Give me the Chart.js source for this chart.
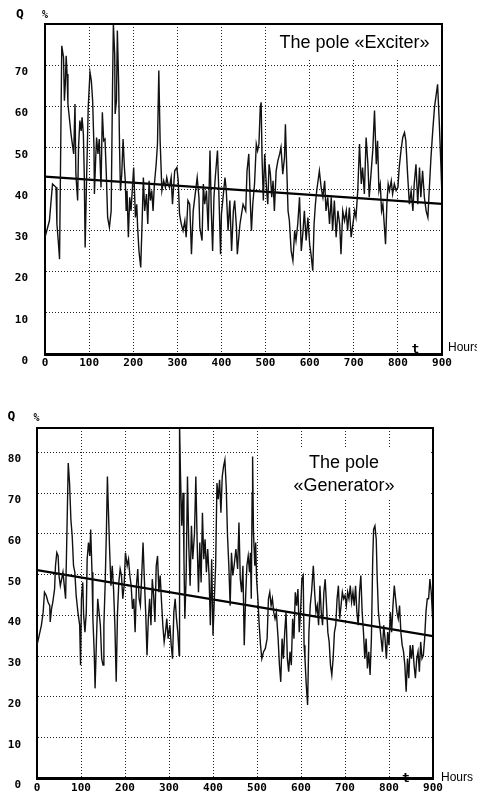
<!DOCTYPE html>
<html>
<head>
<meta charset="utf-8">
<title>Pole Q over time</title>
<script src="https://cdn.jsdelivr.net/npm/chart.js@4.4.1/dist/chart.umd.min.js"></script>
<style>
  html, body { margin: 0; padding: 0; background: #fff; }
  body { width: 477px; height: 801px; position: relative; overflow: hidden; }
  canvas { position: absolute; left: 0; }
  #exciterChart { top: 0; }
  #generatorChart { top: 400px; }
</style>
</head>
<body>
<canvas id="exciterChart" width="477" height="385"></canvas>
<canvas id="generatorChart" width="477" height="401"></canvas>
<script>
// ---- values ----
const hourTicks = [0, 100, 200, 300, 400, 500, 600, 700, 800, 900];
const exciterYTicks = [0, 10, 20, 30, 40, 50, 60, 70];
const generatorYTicks = [0, 10, 20, 30, 40, 50, 60, 70, 80];

const exciterHours = [
  0, 10, 17, 25, 27, 30, 33, 38, 42, 44, 46, 48, 50, 52, 59, 65, 68, 70, 74, 76,
  79, 82, 84, 87, 89, 91, 94, 98, 102, 105, 108, 111, 112, 115, 117, 120, 123, 127, 130, 133,
  136, 139, 142, 146, 150, 153, 155, 158, 159, 162, 164, 167, 169, 171, 174, 177, 180, 182, 184, 186,
  189, 192, 195, 201, 205, 208, 210, 213, 217, 220, 223, 226, 230, 233, 236, 239, 242, 245, 248, 252,
  255, 258, 261, 265, 269, 273, 276, 279, 282, 286, 289, 294, 299, 302, 305, 309, 313, 317, 320, 324,
  328, 330, 332, 336, 345, 349, 351, 356, 359, 362, 366, 370, 374, 377, 380, 383, 386, 391, 394, 398,
  400, 408, 411, 415, 419, 423, 427, 430, 434, 436, 442, 449, 455, 458, 462, 465, 468, 471, 475, 479,
  482, 485, 488, 490, 492, 495, 498, 502, 505, 508, 511, 514, 517, 520, 524, 528, 532, 535, 539, 543,
  545, 548, 551, 554, 558, 562, 566, 569, 573, 577, 581, 585, 588, 592, 596, 600, 603, 607, 610, 613,
  616, 619, 622, 626, 630, 634, 637, 641, 645, 649, 652, 656, 660, 664, 668, 671, 675, 679, 683, 686,
  690, 694, 698, 702, 705, 709, 713, 717, 720, 724, 728, 732, 735, 739, 743, 747, 751, 754, 757, 760,
  763, 766, 769, 772, 775, 778, 781, 785, 788, 792, 796, 800, 803, 807, 811, 815, 818, 822, 826, 830,
  834, 837, 841, 845, 849, 852, 856, 860, 864, 868, 871, 875, 879, 883, 887, 890, 894, 898, 900
];
const exciterQ = [
  28.3, 32.3, 41.2, 40.4, 31.5, 27.5, 23.0, 74.7, 71.9, 61.4, 65.4, 72.3, 67.9, 60.6, 53.3, 48.5, 60.6, 43.6, 37.2, 50.1,
  56.6, 54.1, 57.4, 53.3, 43.6, 25.8, 41.2, 59.8, 68.3, 66.3, 61.4, 50.1, 38.8, 47.7, 52.5, 48.5, 52.1, 40.4, 58.6, 51.7,
  52.1, 43.6, 33.1, 30.7, 34.7, 63.8, 80.0, 72.7, 58.2, 61.4, 78.4, 65.4, 50.1, 39.6, 43.6, 52.1, 45.2, 42.0, 34.7, 39.6,
  28.3, 38.0, 34.7, 45.2, 33.1, 36.3, 30.7, 25.0, 21.0, 31.5, 42.8, 34.7, 38.8, 31.5, 42.0, 37.2, 39.6, 34.7, 41.2, 46.0,
  50.9, 68.7, 51.7, 39.6, 42.0, 40.4, 42.8, 41.2, 40.4, 42.8, 36.3, 44.4, 45.2, 42.0, 33.9, 31.5, 29.9, 32.3, 28.3, 37.2,
  36.3, 30.7, 24.2, 34.7, 42.8, 38.0, 30.7, 27.5, 41.2, 36.3, 39.6, 29.9, 49.3, 34.7, 25.0, 38.0, 42.8, 49.3, 39.6, 24.2,
  33.9, 42.8, 39.6, 29.9, 37.2, 25.0, 34.7, 37.2, 30.7, 24.2, 31.5, 36.3, 34.7, 44.4, 48.5, 38.0, 29.9, 36.3, 41.2, 50.9,
  49.3, 50.9, 59.8, 61.0, 47.7, 37.2, 48.5, 40.4, 36.3, 46.0, 43.6, 38.0, 42.0, 34.7, 44.4, 46.9, 48.5, 50.1, 43.6, 47.7,
  55.7, 45.2, 34.7, 32.3, 25.0, 22.6, 29.9, 27.5, 31.5, 38.0, 25.0, 29.9, 34.7, 27.5, 33.1, 26.6, 24.2, 20.2, 31.5, 36.3,
  39.6, 42.0, 44.4, 40.4, 38.0, 42.0, 34.7, 38.0, 31.5, 38.0, 29.9, 37.2, 28.3, 34.7, 31.5, 24.2, 34.7, 32.3, 34.7, 29.9,
  35.5, 28.3, 31.5, 34.7, 33.1, 39.6, 50.9, 41.2, 45.2, 38.8, 52.5, 46.0, 38.0, 43.6, 49.3, 59.0, 46.0, 51.7, 39.6, 41.2,
  34.7, 36.3, 31.5, 26.6, 36.3, 41.2, 39.6, 42.0, 38.8, 41.2, 39.6, 40.4, 45.2, 49.3, 52.5, 53.7, 51.7, 43.6, 36.3, 39.6,
  34.7, 41.2, 46.0, 36.3, 45.2, 38.0, 44.4, 38.0, 34.7, 33.1, 39.6, 47.7, 54.1, 59.8, 63.0, 65.4, 55.7, 44.4, 38.0
];
const exciterTrendHours = [0, 900];
const exciterTrendQ = [43.0, 36.4];

const generatorHours = [
  0, 5, 10, 14, 17, 21, 25, 29, 30, 33, 36, 40, 42, 45, 48, 50, 53, 56, 59, 62,
  65, 68, 71, 74, 77, 80, 83, 86, 89, 93, 97, 99, 101, 104, 106, 109, 112, 114, 117, 120,
  122, 125, 127, 130, 132, 135, 138, 141, 144, 147, 150, 152, 155, 158, 160, 162, 165, 168, 171, 174,
  177, 180, 183, 186, 189, 192, 195, 198, 201, 205, 208, 211, 214, 217, 220, 223, 226, 229, 232, 235,
  238, 241, 244, 247, 250, 253, 256, 259, 262, 265, 268, 271, 274, 277, 280, 283, 286, 289, 292, 295,
  298, 302, 305, 308, 311, 314, 317, 320, 323, 324, 326, 329, 332, 334, 336, 339, 342, 345, 348, 351,
  354, 358, 361, 364, 367, 370, 373, 376, 379, 382, 385, 388, 391, 394, 397, 400, 403, 406, 409, 412,
  415, 418, 421, 424, 427, 430, 433, 436, 439, 442, 445, 448, 452, 456, 459, 462, 465, 468, 471, 474,
  477, 480, 483, 485, 487, 489, 490, 492, 495, 497, 499, 502, 505, 508, 511, 515, 519, 523, 526, 529,
  532, 535, 538, 541, 544, 548, 551, 554, 557, 560, 563, 566, 569, 572, 575, 578, 581, 584, 587, 590,
  593, 596, 599, 602, 605, 607, 609, 612, 615, 618, 621, 624, 628, 631, 634, 637, 640, 643, 646, 649,
  652, 655, 658, 661, 664, 667, 670, 673, 676, 679, 682, 685, 688, 691, 694, 697, 700, 703, 706, 709,
  712, 715, 718, 721, 724, 727, 730, 733, 736, 739, 742, 745, 748, 751, 754, 757, 760, 763, 765, 768,
  771, 773, 776, 779, 782, 785, 788, 791, 794, 797, 800, 803, 806, 809, 812, 815, 818, 821, 824, 827,
  830, 833, 836, 839, 842, 845, 848, 851, 854, 857, 860, 863, 866, 869, 872, 875, 878, 881, 884, 887,
  890, 893, 896, 900
];
const generatorQ = [
  32.7, 35.1, 37.6, 40.8, 45.7, 44.9, 43.3, 42.4, 38.4, 41.6, 43.3, 46.5, 52.2, 55.4, 54.6, 49.8, 47.3, 48.9, 50.6, 47.3,
  44.1, 60.3, 77.4, 72.5, 63.6, 59.5, 52.2, 50.6, 44.9, 40.8, 37.6, 27.8, 44.1, 48.1, 40.0, 35.9, 40.8, 53.8, 57.9, 54.6,
  61.1, 50.6, 39.2, 31.1, 22.1, 33.5, 44.1, 40.8, 37.6, 29.4, 27.8, 37.6, 48.1, 62.0, 74.1, 66.8, 56.3, 47.3, 52.2, 46.5,
  37.6, 23.7, 40.8, 48.1, 51.4, 49.8, 44.1, 47.3, 55.4, 52.2, 53.8, 49.8, 47.3, 41.6, 44.1, 35.9, 47.3, 51.4, 44.1, 42.4,
  49.8, 57.9, 48.9, 40.8, 30.2, 39.2, 44.1, 37.6, 48.9, 44.9, 38.4, 52.2, 54.6, 45.7, 49.8, 43.3, 37.6, 33.5, 35.9, 39.2,
  34.3, 37.6, 32.7, 29.4, 40.8, 44.1, 39.2, 35.9, 30.2, 87.0, 75.0, 62.0, 70.1, 53.8, 39.2, 49.8, 74.1, 57.1, 47.3, 62.0,
  53.8, 60.3, 74.1, 57.9, 45.7, 57.9, 48.1, 65.2, 53.8, 58.7, 50.6, 56.3, 49.8, 37.6, 53.8, 35.1, 44.1, 52.2, 72.5, 68.5,
  73.3, 65.2, 74.1, 76.6, 78.2, 71.7, 59.5, 52.2, 42.4, 55.4, 49.8, 52.2, 56.3, 51.4, 62.8, 49.0, 45.7, 52.2, 32.7, 44.1,
  52.2, 54.6, 50.6, 55.4, 44.1, 70.1, 79.0, 60.3, 52.2, 57.9, 49.0, 44.1, 37.6, 32.7, 29.4, 31.1, 31.9, 34.3, 44.1, 45.7,
  42.4, 44.1, 40.8, 39.2, 40.8, 34.3, 27.8, 23.7, 34.3, 29.4, 35.9, 40.8, 29.4, 26.2, 31.1, 27.8, 39.2, 34.3, 45.7, 42.4,
  46.5, 35.9, 40.8, 49.0, 49.8, 32.7, 29.4, 22.9, 18.0, 35.9, 42.4, 45.7, 52.2, 45.7, 40.8, 42.4, 37.6, 47.3, 40.8, 37.6,
  45.7, 48.9, 42.4, 35.9, 33.5, 27.8, 25.4, 29.4, 35.9, 37.6, 44.1, 47.3, 39.2, 42.4, 45.7, 44.1, 44.9, 42.4, 45.7, 44.1,
  47.3, 43.3, 45.7, 42.4, 47.3, 40.8, 37.6, 45.7, 49.8, 40.8, 35.9, 29.4, 34.3, 27.0, 31.1, 25.4, 34.3, 53.8, 61.1, 62.0,
  58.7, 49.8, 40.8, 37.6, 34.3, 31.1, 37.6, 34.3, 29.4, 35.9, 32.7, 40.8, 35.9, 42.4, 47.3, 44.1, 40.8, 39.2, 42.4, 35.9,
  32.7, 31.1, 27.8, 21.3, 29.4, 24.6, 32.7, 29.4, 32.7, 27.8, 24.6, 29.4, 31.1, 26.2, 33.5, 29.4, 30.2, 34.3, 40.8, 44.1,
  44.1, 48.9, 45.7, 37.6
];
const generatorTrendHours = [0, 900];
const generatorTrendQ = [51.1, 34.9];

const MONO = '"DejaVu Sans Mono", monospace';
const SANS = '"Liberation Sans", Arial, sans-serif';

function toPoints(xs, ys) {
  return xs.map((x, i) => ({ x: x, y: ys[i] }));
}

// top/right frame, title box and the loose labels (Q, %, t, Hours)
function decorPlugin(d) {
  return {
    id: 'decor',
    afterDraw(chart) {
      const ctx = chart.ctx;
      const a = chart.chartArea;
      ctx.save();

      ctx.fillStyle = '#fff';
      ctx.fillRect(d.box.x, d.box.y, d.box.w, d.box.h);
      ctx.fillStyle = '#000';
      ctx.font = '18px ' + SANS;
      ctx.textAlign = 'center';
      ctx.textBaseline = 'alphabetic';
      d.title.forEach((line, i) => ctx.fillText(line, d.titleX, d.titleY + i * 23));

      ctx.strokeStyle = '#000';
      ctx.lineWidth = 2;
      ctx.beginPath();
      ctx.moveTo(a.left - 1, a.top);
      ctx.lineTo(a.right, a.top);
      ctx.lineTo(a.right, a.bottom);
      ctx.stroke();

      ctx.textBaseline = 'middle';
      ctx.font = 'bold 13px ' + MONO;
      ctx.fillText('Q', d.q.x, d.q.y);
      ctx.font = 'bold 10px ' + MONO;
      ctx.fillText('%', d.pct.x, d.pct.y);

      ctx.textBaseline = 'alphabetic';
      ctx.font = 'bold 13px ' + MONO;
      ctx.fillText('t', d.t.x, d.t.y);
      ctx.textAlign = 'left';
      ctx.font = '12px ' + SANS;
      ctx.fillText('Hours', d.hours.x, d.hours.y);
      ctx.restore();
    }
  };
}

function buildChart(id, o) {
  const tickFont = { family: MONO, size: 11, weight: 'bold' };
  return new Chart(document.getElementById(id), {
    type: 'line',
    data: {
      datasets: [
        {
          data: toPoints(o.hours, o.q),
          borderColor: '#111',
          borderWidth: 1.4,
          pointRadius: 0,
          tension: 0
        },
        {
          data: toPoints(o.trendHours, o.trendQ),
          borderColor: '#000',
          borderWidth: 2.2,
          pointRadius: 0
        }
      ]
    },
    options: {
      responsive: false,
      animation: false,
      events: [],
      layout: { padding: o.padding },
      plugins: { legend: { display: false }, tooltip: { enabled: false } },
      scales: {
        x: {
          type: 'linear',
          min: 0,
          max: 900,
          afterBuildTicks: s => { s.ticks = hourTicks.map(v => ({ value: v })); },
          afterFit: s => { s.height = o.xHeight; },
          grid: { color: '#222', lineWidth: 1, drawTicks: false },
          border: { display: true, color: '#000', width: 3, dash: [1, 2] },
          ticks: { padding: o.xPad, color: '#000', font: tickFont, maxRotation: 0, autoSkip: false }
        },
        y: {
          min: 0,
          max: o.yMax,
          afterBuildTicks: s => { s.ticks = o.yTicks.map(v => ({ value: v })); },
          afterFit: s => { s.width = o.yWidth; },
          grid: { color: '#222', lineWidth: 1, drawTicks: false },
          border: { display: true, color: '#000', width: 2, dash: [1, 2] },
          ticks: { padding: o.yPad, labelOffset: 7, color: '#000', font: tickFont, autoSkip: false }
        }
      }
    },
    plugins: [decorPlugin(o.decor)]
  });
}

buildChart('exciterChart', {
  hours: exciterHours, q: exciterQ,
  trendHours: exciterTrendHours, trendQ: exciterTrendQ,
  yTicks: exciterYTicks, yMax: 80,
  padding: { top: 24, right: 35, left: 0, bottom: 0 },
  xHeight: 31, yWidth: 45, xPad: 3, yPad: 17,
  decor: {
    box: { x: 270, y: 26, w: 170, h: 32 },
    title: ['The pole \u00abExciter\u00bb'], titleX: 354.5, titleY: 48,
    q: { x: 20, y: 15 }, pct: { x: 45, y: 15 },
    t: { x: 415.5, y: 353 }, hours: { x: 448, y: 351 }
  }
});

buildChart('generatorChart', {
  hours: generatorHours, q: generatorQ,
  trendHours: generatorTrendHours, trendQ: generatorTrendQ,
  yTicks: generatorYTicks, yMax: 86,
  padding: { top: 28, right: 44, left: 0, bottom: 0 },
  xHeight: 18, yWidth: 37, xPad: 3, yPad: 16,
  decor: {
    box: { x: 260, y: 47, w: 170, h: 51 },
    title: ['The pole', '\u00abGenerator\u00bb'], titleX: 344, titleY: 68,
    q: { x: 11.5, y: 17 }, pct: { x: 36.5, y: 18.5 },
    t: { x: 406, y: 382 }, hours: { x: 441, y: 381 }
  }
});
</script>
</body>
</html>
